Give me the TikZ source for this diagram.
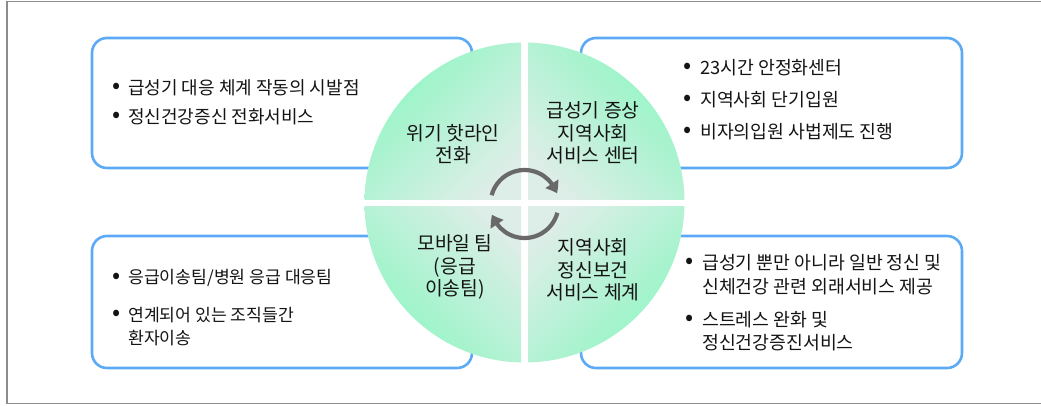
\documentclass[tikz,border=0pt]{standalone}
\usepackage{fontspec}
\setmainfont{Noto Sans CJK KR}
\usetikzlibrary{arrows.meta,bending}
\definecolor{qbright}{RGB}{142,246,194}
\definecolor{qlight}{RGB}{220,238,231}
\definecolor{boxblue}{RGB}{92,170,245}
\definecolor{arrgray}{RGB}{105,105,105}
\definecolor{framegray}{RGB}{140,140,140}
\definecolor{txt}{RGB}{20,20,20}
\tikzset{
  infobox/.style={draw=boxblue, line width=2.6pt, rounded corners=15pt, fill=white, inner sep=0pt},
  btext/.style={inner sep=0pt, anchor=west, text=txt, font=\fontsize{18}{22}\selectfont},
  bullet/.style={inner sep=0pt, text=txt, font=\fontsize{24}{24}\selectfont},
  qlabel/.style={inner sep=0pt, align=center, text=txt, font=\fontsize{19.3}{22.5}\selectfont},
  cyc/.style={draw=arrgray, line width=4.2pt, -{Triangle[width=15pt,length=11pt,bend]}}
}
\begin{document}
\begin{tikzpicture}[x=1pt,y=-1pt]
\useasboundingbox (0,0) rectangle (1041,405);
\fill[white] (0,0) rectangle (1041,405);
\draw[framegray, line width=1.3pt] (1041,1.5) -- (7,1.5) -- (7,403.5) -- (1041,403.5);

% boxes
\node[infobox, minimum width=380pt, minimum height=130pt] (boxTL) at (282,103) {};
\node[infobox, minimum width=381pt, minimum height=130pt] (boxTR) at (771.5,103) {};
\node[infobox, minimum width=380pt, minimum height=132pt] (boxBL) at (282,302) {};
\node[infobox, minimum width=381pt, minimum height=132pt] (boxBR) at (771.5,302) {};

% quadrants
\begin{scope}
\clip (524.5,202.5) circle (160);
\shade[top color=qbright, bottom color=qlight, shading angle=45]  (364,42) rectangle (521,199);
\shade[top color=qbright, bottom color=qlight, shading angle=-45] (528,42) rectangle (685,199);
\shade[top color=qbright, bottom color=qlight, shading angle=135] (364,206) rectangle (521,363);
\shade[top color=qbright, bottom color=qlight, shading angle=-135] (528,206) rectangle (685,363);
\end{scope}

% quadrant labels
\node[qlabel] (qUL) at (453,144) {위기 핫라인\\전화};
\node[qlabel] (qUR) at (593,133) {급성기 증상\\지역사회\\서비스 센터};
\node[qlabel] (qLL) at (455,267) {모바일 팀\\(응급\\이송팀)};
\node[qlabel] (qLR) at (593,270) {지역사회\\정신보건\\서비스 체계};

% cycle arrows
\draw[cyc] (524.5,204) ++(195:34) arc (195:342:34);
\draw[cyc] (524.5,204) ++(15:34) arc (15:162:34);

% top-left text
\node[bullet] (b1) at (117,88) {•};
\node[btext] (t1) at (128,88) {급성기 대응 체계 작동의 시발점};
\node[bullet] (b2) at (117,117) {•};
\node[btext] (t2) at (128,117) {정신건강증신 전화서비스};

% top-right text
\node[bullet] (b3) at (688,68) {•};
\node[btext, font=\fontsize{18.3}{22}\selectfont] (t3) at (700,68) {23시간 안정화센터};
\node[bullet] (b4) at (688,100) {•};
\node[btext, font=\fontsize{18.3}{22}\selectfont] (t4) at (700,100) {지역사회 단기입원};
\node[bullet] (b5) at (688,132) {•};
\node[btext, font=\fontsize{18.3}{22}\selectfont] (t5) at (700,132) {비자의입원 사법제도 진행};

% bottom-left text
\node[bullet] (b6) at (117,278) {•};
\node[btext, font=\fontsize{17.2}{22}\selectfont] (t6) at (128,278) {응급이송팀/병원 응급 대응팀};
\node[bullet] (b7) at (117,315) {•};
\node[btext, font=\fontsize{17.2}{22}\selectfont] (t7) at (128,315) {연계되어 있는 조직들간};
\node[btext, font=\fontsize{17.2}{22}\selectfont] (t7b) at (128,338) {환자이송};

% bottom-right text
\node[bullet] (b8) at (690,263) {•};
\node[btext, font=\fontsize{18.3}{22}\selectfont] (t8) at (702,263) {급성기 뿐만 아니라 일반 정신 및};
\node[btext, font=\fontsize{18.3}{22}\selectfont] (t8b) at (702,287) {신체건강 관련 외래서비스 제공};
\node[bullet] (b9) at (690,320) {•};
\node[btext, font=\fontsize{18.3}{22}\selectfont] (t9) at (702,320) {스트레스 완화 및};
\node[btext, font=\fontsize{18.3}{22}\selectfont] (t9b) at (702,343) {정신건강증진서비스};
\end{tikzpicture}
\end{document}
